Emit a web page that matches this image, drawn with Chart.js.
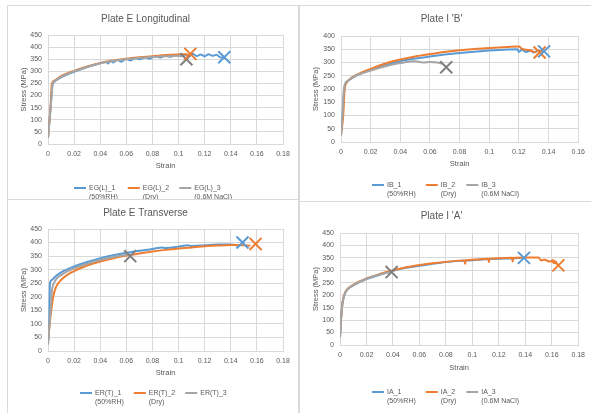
<!DOCTYPE html>
<html>
<head>
<meta charset="utf-8">
<script src="https://cdn.jsdelivr.net/npm/chart.js@4.4.0/dist/chart.umd.min.js"></script>
<style>
  html, body { margin: 0; padding: 0; background: #fff; }
  body { width: 591px; height: 413px; position: relative; overflow: hidden; }
  .panel { position: absolute; border: 1px solid #d9d9d9; background: #fff; }
  .panel canvas { display: block; }
</style>
</head>
<body>
<div class="panel" style="left:7px;top:5px;"><canvas id="c1" width="290" height="193"></canvas></div>
<div class="panel" style="left:299px;top:5px;"><canvas id="c2" width="291" height="195"></canvas></div>
<div class="panel" style="left:7px;top:199px;"><canvas id="c3" width="290" height="213"></canvas></div>
<div class="panel" style="left:299px;top:201px;"><canvas id="c4" width="291" height="211"></canvas></div>
<script>
// Series colours (Excel defaults)
const COLORS = ['#5B9BD5', '#ED7D31', '#A5A5A5'];
const X_COLORS = ['#5B9BD5', '#ED7D31', '#7F7F7F'];
const CONDITIONS = ['(50%RH)', '(Dry)', '(0.6M NaCl)'];
const Y_TICK_STEP = 50;
const X_TICK_STEP = 0.02;

// Plate E Longitudinal  [strain, stress MPa]
const EGL_NAMES = ['EG(L)_1', 'EG(L)_2', 'EG(L)_3'];
const EGL_1 = [[0,25],[0.002,150],[0.0035,245],[0.005,258],[0.01,275],[0.02,298],[0.03,318],[0.04,333],[0.045,340],
  [0.046,332],[0.048,345],[0.05,336],[0.053,348],[0.056,340],[0.06,352],[0.063,345],[0.067,355],[0.07,350],[0.075,358],
  [0.078,352],[0.082,362],[0.086,357],[0.09,365],[0.094,360],[0.098,368],[0.102,362],[0.105,370],[0.108,364],[0.111,372],
  [0.114,363],[0.117,370],[0.12,362],[0.123,371],[0.126,364],[0.129,368],[0.132,358],[0.134,356]];
const EGL_2 = [[0,25],[0.002,160],[0.003,250],[0.005,262],[0.01,280],[0.02,302],[0.03,320],[0.04,335],[0.05,345],[0.06,352],
  [0.07,358],[0.08,362],[0.09,367],[0.1,370],[0.106,371],[0.108,365]];
const EGL_3 = [[0,25],[0.002,150],[0.0035,248],[0.005,260],[0.01,277],[0.02,300],[0.03,318],[0.04,333],[0.05,343],[0.06,350],
  [0.07,355],[0.08,359],[0.09,362],[0.1,364],[0.105,362]];
const EGL_ENDS = [[0.135,358],[0.109,372],[0.106,350]];

// Plate I 'B'
const IB_NAMES = ['IB_1', 'IB_2', 'IB_3'];
const IB_1 = [[0,25],[0.001,100],[0.002,190],[0.003,220],[0.005,232],[0.01,250],[0.02,272],[0.03,290],[0.04,305],[0.05,315],
  [0.06,323],[0.07,330],[0.08,336],[0.09,341],[0.1,345],[0.11,348],[0.119,350],[0.12,340],[0.122,348],[0.125,340],[0.128,345],
  [0.13,338],[0.133,345],[0.136,340]];
const IB_2 = [[0,25],[0.0015,100],[0.0025,200],[0.004,225],[0.006,238],[0.01,252],[0.02,276],[0.03,296],[0.04,311],[0.05,323],
  [0.06,332],[0.07,340],[0.08,346],[0.09,351],[0.1,355],[0.11,358],[0.12,360],[0.122,352],[0.125,348],[0.128,345],[0.13,340],[0.132,338]];
const IB_3 = [[0,25],[0.001,100],[0.002,200],[0.003,222],[0.005,232],[0.01,250],[0.02,270],[0.03,286],[0.04,298],[0.05,305],
  [0.055,300],[0.06,302],[0.065,300],[0.068,295]];
const IB_ENDS = [[0.137,342],[0.134,338],[0.071,282]];

// Plate E Transverse
const ERT_NAMES = ['ER(T)_1', 'ER(T)_2', 'ER(T)_3'];
const ERT_1 = [[0,25],[0.001,120],[0.0015,250],[0.003,262],[0.005,272],[0.01,290],[0.02,312],[0.03,328],[0.04,342],[0.05,353],
  [0.06,362],[0.07,370],[0.08,376],[0.087,382],[0.09,380],[0.1,385],[0.107,390],[0.11,387],[0.12,390],[0.13,393],[0.14,393],[0.145,390]];
const ERT_2 = [[0,35],[0.002,130],[0.004,200],[0.006,235],[0.01,262],[0.02,295],[0.03,315],[0.04,330],[0.05,342],[0.06,352],
  [0.07,360],[0.08,367],[0.09,373],[0.1,378],[0.11,382],[0.12,386],[0.13,389],[0.14,391],[0.15,390],[0.155,388]];
const ERT_3 = [[0,25],[0.002,150],[0.003,220],[0.005,255],[0.01,280],[0.02,305],[0.03,322],[0.04,336],[0.05,347],[0.06,355],[0.063,357]];
const ERT_ENDS = [[0.149,400],[0.159,395],[0.063,350]];

// Plate I 'A'
const IA_NAMES = ['IA_1', 'IA_2', 'IA_3'];
const IA_1 = [[0,30],[0.001,120],[0.002,170],[0.004,210],[0.006,225],[0.01,240],[0.02,265],[0.03,282],[0.04,298],[0.05,310],
  [0.06,318],[0.07,326],[0.08,333],[0.09,338],[0.1,341],[0.11,345],[0.12,347],[0.13,348],[0.137,350]];
const IA_2 = [[0,35],[0.001,120],[0.002,175],[0.004,212],[0.006,227],[0.01,242],[0.02,267],[0.03,285],[0.04,300],[0.05,312],
  [0.06,321],[0.07,328],[0.08,334],[0.09,339],[0.094,340],[0.0945,325],[0.095,341],[0.1,343],[0.11,346],[0.112,347],[0.1125,333],
  [0.113,347],[0.12,349],[0.13,351],[0.1305,335],[0.131,351],[0.14,352],[0.15,352],[0.152,340],[0.155,343],[0.158,335],[0.16,338],
  [0.162,328],[0.163,335],[0.164,325]];
const IA_3 = [[0,30],[0.001,120],[0.002,172],[0.004,210],[0.006,225],[0.01,240],[0.02,266],[0.03,283],[0.04,295]];
const IA_ENDS = [[0.139,350],[0.165,320],[0.039,293]];

Chart.defaults.font.family = '"Liberation Sans", Arial, sans-serif';
Chart.defaults.color = '#595959';

// Excel-style legend with a second line under each name
const excelLegend = {
  id: 'excelLegend',
  afterDraw(chart, args, opts) {
    const ctx = chart.ctx;
    ctx.save();
    ctx.font = '7px "Liberation Sans", Arial, sans-serif';
    ctx.textBaseline = 'middle';
    const items = opts.items;
    const widths = items.map(it => 15 + Math.max(...it.text.map(t => ctx.measureText(t).width)));
    const total = widths.reduce((a, b) => a + b, 0) + 10 * (items.length - 1);
    let x = Math.round((chart.width - total) / 2);
    items.forEach((it, i) => {
      ctx.strokeStyle = it.color;
      ctx.lineWidth = 2;
      ctx.beginPath();
      ctx.moveTo(x, opts.y);
      ctx.lineTo(x + 12, opts.y);
      ctx.stroke();
      ctx.fillStyle = '#595959';
      it.text.forEach((t, j) => ctx.fillText(t, x + 15, opts.y + j * 9));
      x += widths[i] + 10;
    });
    ctx.restore();
  }
};

function makeChart(id, p) {
  const c = document.getElementById(id);
  const W = c.width, H = c.height;
  const xh = p.strainY + 4.5 - p.plotBottom;
  const datasets = [];
  p.series.forEach((s, i) => {
    datasets.push({
      label: p.names[i],
      data: s.map(d => ({x: d[0], y: d[1]})),
      showLine: true,
      borderColor: COLORS[i],
      backgroundColor: COLORS[i],
      borderWidth: 2,
      pointRadius: 0,
      cubicInterpolationMode: 'monotone',
      order: 3 - i
    });
  });
  p.ends.forEach((e, i) => {
    datasets.push({
      label: p.names[i] + ' fracture',
      data: [{x: e[0], y: e[1]}],
      showLine: false,
      pointStyle: 'crossRot',
      pointRadius: 8.5,
      borderWidth: 2,
      borderColor: X_COLORS[i],
      pointBorderColor: X_COLORS[i],
      pointBackgroundColor: 'transparent',
      order: 0
    });
  });
  const legendItems = p.names.map((n, i) => ({
    color: COLORS[i],
    text: p.conds[i] ? [n, p.conds[i]] : [n]
  }));

  new Chart(c, {
    type: 'scatter',
    data: { datasets },
    plugins: [excelLegend],
    options: {
      responsive: false,
      animation: false,
      events: [],
      layout: {
        padding: { left: 0, right: W - p.plotRight, top: 0, bottom: H - p.plotBottom - xh }
      },
      plugins: {
        legend: { display: false },
        tooltip: { enabled: false },
        title: {
          display: true,
          text: p.title,
          color: '#595959',
          font: { size: 10, weight: 'normal' },
          padding: { top: p.titleY - 6, bottom: p.plotTop - p.titleY - 6 }
        },
        excelLegend: { items: legendItems, y: p.legY }
      },
      scales: {
        x: {
          type: 'linear',
          min: 0,
          max: p.xMax,
          afterFit: s => { s.height = xh; },
          grid: { color: '#d9d9d9', drawTicks: false },
          border: { color: '#d9d9d9' },
          ticks: {
            stepSize: X_TICK_STEP,
            autoSkip: false,
            maxRotation: 0,
            padding: 6,
            font: { size: 7 },
            color: '#595959',
            callback: v => String(+v.toFixed(2))
          },
          title: { display: true, text: 'Strain', font: { size: 7.5 }, color: '#595959', padding: 0 }
        },
        y: {
          min: 0,
          max: p.yMax,
          afterFit: s => { s.width = p.plotLeft; },
          grid: { color: '#d9d9d9', drawTicks: false },
          border: { color: '#d9d9d9' },
          ticks: { stepSize: Y_TICK_STEP, padding: 6, font: { size: 7 }, color: '#595959' },
          title: { display: true, text: 'Stress (MPa)', font: { size: 7.5 }, color: '#595959', padding: { top: 11, bottom: 0 } }
        }
      }
    }
  });
}

makeChart('c1', {
  title: 'Plate E Longitudinal', xMax: 0.18, yMax: 450,
  series: [EGL_1, EGL_2, EGL_3], ends: EGL_ENDS, names: EGL_NAMES, conds: CONDITIONS,
  plotLeft: 40, plotRight: 275, plotTop: 29, plotBottom: 138, titleY: 13, strainY: 160, legY: 182
});
makeChart('c2', {
  title: "Plate I 'B'", xMax: 0.16, yMax: 400,
  series: [IB_1, IB_2, IB_3], ends: IB_ENDS, names: IB_NAMES, conds: CONDITIONS,
  plotLeft: 41, plotRight: 283, plotTop: 30, plotBottom: 136, titleY: 13, strainY: 158, legY: 179
});
makeChart('c3', {
  title: 'Plate E Transverse', xMax: 0.18, yMax: 450,
  series: [ERT_1, ERT_2, ERT_3], ends: ERT_ENDS, names: ERT_NAMES, conds: ['(50%RH)', '(Dry)', null],
  plotLeft: 40, plotRight: 275, plotTop: 29, plotBottom: 151, titleY: 13, strainY: 173, legY: 193
});
makeChart('c4', {
  title: "Plate I 'A'", xMax: 0.18, yMax: 450,
  series: [IA_1, IA_2, IA_3], ends: IA_ENDS, names: IA_NAMES, conds: CONDITIONS,
  plotLeft: 40, plotRight: 283, plotTop: 31, plotBottom: 143, titleY: 14, strainY: 166, legY: 190
});
</script>
</body>
</html>
